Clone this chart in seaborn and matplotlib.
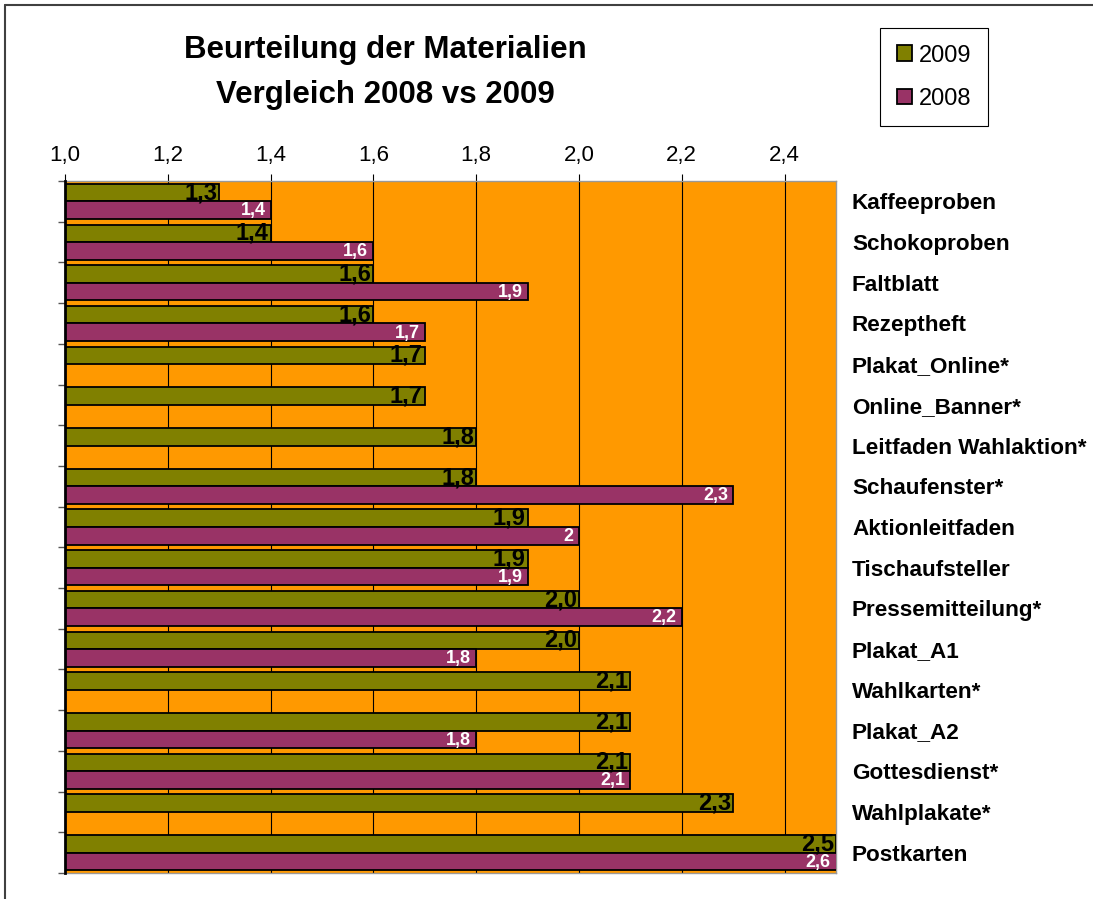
import matplotlib
matplotlib.use('Agg')

import numpy as np
import pandas as pd
import matplotlib.pyplot as plt
from matplotlib.lines import Line2D
from matplotlib.ticker import FixedLocator
import seaborn as sns

# Werte
materials = ["Kaffeeproben", "Schokoproben", "Faltblatt", "Rezeptheft",
             "Plakat_Online*", "Online_Banner*", "Leitfaden Wahlaktion*",
             "Schaufenster*", "Aktionleitfaden", "Tischaufsteller",
             "Pressemitteilung*", "Plakat_A1", "Wahlkarten*", "Plakat_A2",
             "Gottesdienst*", "Wahlplakate*", "Postkarten"]
v2009 = [1.3, 1.4, 1.6, 1.6, 1.7, 1.7, 1.8, 1.8, 1.9, 1.9, 2.0, 2.0, 2.1, 2.1, 2.1, 2.3, 2.5]
v2008 = [1.4, 1.6, 1.9, 1.7, np.nan, np.nan, np.nan, 2.3, 2.0, 1.9, 2.2, 1.8, np.nan, 1.8, 2.1, np.nan, 2.6]
years = ["2009", "2008"]
x_ticks = [1.0, 1.2, 1.4, 1.6, 1.8, 2.0, 2.2, 2.4]

df = pd.DataFrame({
    "Material": materials * 2,
    "Note": v2009 + v2008,
    "Jahr": ["2009"] * len(materials) + ["2008"] * len(materials),
}).dropna()

sns.set_style("white")
plt.rcParams["font.family"] = ["Liberation Sans", "DejaVu Sans"]
plt.rcParams["text.color"] = "black"
plt.rcParams["xtick.color"] = "black"
plt.rcParams["ytick.color"] = "black"
plt.rcParams["xtick.labelcolor"] = "black"
plt.rcParams["ytick.labelcolor"] = "black"

fig = plt.figure(figsize=(10.93, 8.99), dpi=100)
ax = fig.add_axes([65 / 1093, 1 - 873 / 899, (836 - 65) / 1093, (873 - 181) / 899])
ax.set_facecolor("#FF9900")

sns.barplot(data=df, y="Material", x="Note", hue="Jahr", hue_order=years,
            order=materials, orient="h", palette=["#808000", "#993366"],
            width=0.86, edgecolor="black", linewidth=1.3, saturation=1,
            errorbar=None, ax=ax, zorder=3)

ax.set_xlim(1.0, 2.5)
ax.set_xlabel("")
ax.set_ylabel("")

# x-Achse oben
ax.xaxis.tick_top()
ax.set_xticks(x_ticks)
ax.set_xticklabels([f"{t:.1f}".replace(".", ",") for t in x_ticks])
ax.tick_params(axis="x", labelsize=16, length=5, width=0.8, color="black", pad=6)
ax.grid(axis="x", color="black", linewidth=0.8, zorder=0)
ax.set_axisbelow(True)

# Kategorien rechts, Striche links an den Gruppengrenzen
ax.yaxis.set_minor_locator(FixedLocator(np.arange(len(materials) + 1) - 0.5))
ax.tick_params(axis="y", which="major", left=False, right=False,
               labelleft=False, labelright=True, labelsize=16.2, pad=8)
ax.tick_params(axis="y", which="minor", left=True, length=5, width=1, color="#555555")
for lab in ax.get_yticklabels():
    lab.set_fontweight("bold")

for side in ["top", "right", "bottom"]:
    ax.spines[side].set_color("#999999")
    ax.spines[side].set_linewidth(1)
ax.spines["left"].set_color("black")
ax.spines["left"].set_linewidth(2)
ax.spines["left"].set_zorder(4)

# Werte an den Balkenenden
for cont, year in zip(ax.containers, years):
    for bar in cont:
        w = bar.get_width()
        if np.isnan(w):
            continue
        yc = bar.get_y() + bar.get_height() / 2
        if year == "2009":
            txt = f"{w:.1f}".replace(".", ",")
            ax.text(w - 0.004, yc, txt, ha="right", va="center", fontsize=17,
                    fontweight="bold", color="black", zorder=5)
        else:
            txt = f"{w:g}".replace(".", ",")
            ax.text(min(w, 2.5) - 0.01, yc + 0.02, txt, ha="right", va="center",
                    fontsize=13, fontweight="bold", color="white", zorder=5)

# Legende
handles, labels = ax.get_legend_handles_labels()
ax.get_legend().remove()
leg = fig.legend(handles, labels, loc="upper left",
                 bbox_to_anchor=(880 / 1093, 1 - 28 / 899), borderaxespad=0,
                 fontsize=17, handlelength=0.65, handleheight=0.65,
                 handletextpad=0.3, labelspacing=0.9, borderpad=0.7,
                 fancybox=False, framealpha=1, edgecolor="black")
leg.get_frame().set_linewidth(0.8)

# Titel
fig.text(385 / 1093, 1 - 50 / 899, "Beurteilung der Materialien", ha="center",
         va="center", fontsize=22.5, fontweight="bold")
fig.text(385 / 1093, 1 - 95 / 899, "Vergleich 2008 vs 2009", ha="center",
         va="center", fontsize=22.5, fontweight="bold")

# Rahmen (oben und links sichtbar)
fig.add_artist(Line2D([5 / 1093, 1], [1 - 5 / 899, 1 - 5 / 899],
                      transform=fig.transFigure, color="#404040", linewidth=1.5))
fig.add_artist(Line2D([5 / 1093, 5 / 1093], [0, 1 - 5 / 899],
                      transform=fig.transFigure, color="#404040", linewidth=1.5))

fig.savefig("out.png", dpi=100)
plt.close(fig)
